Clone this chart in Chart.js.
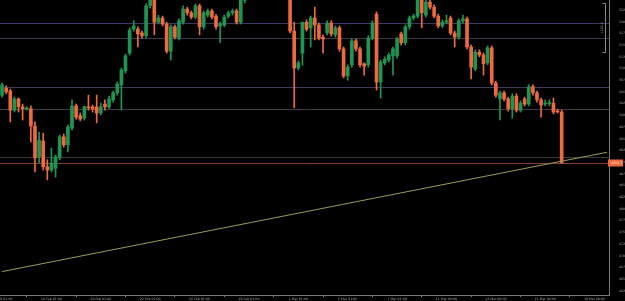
<!DOCTYPE html>
<html>
<head>
<meta charset="utf-8">
<script src="https://cdn.jsdelivr.net/npm/chart.js@4.4.1/dist/chart.umd.min.js"></script>
<style>
  html, body { margin: 0; padding: 0; background: #000; }
</style>
</head>
<body>
<canvas id="chart" width="625" height="301"></canvas>
<script>
// 4H candles
const opens = [5043,5058,5052,5011,5035,5018,5014,5014,4977,4911,4945,4890,4883,4887,4909,4954,4937,4973,5020,4999,
  4994,5018,5018,5018,5005,5024,5018,5033,5048,5065,5095,5133,5184,5184,5176,5170,5234,5251,5199,5208,
  5195,5137,5189,5165,5199,5227,5219,5210,5234,5189,5214,5223,5212,5191,5193,5212,5219,5223,5199,5246,
  5268,5289,5278,5306,5332,5315,5349,5321,5293,5328,5270,5180,5101,5133,5199,5187,5208,5193,5167,5176,
  5197,5172,5187,5142,5084,5108,5159,5142,5110,5108,5165,5216,5071,5112,5118,5127,5127,5174,5155,5189,
  5208,5212,5246,5214,5242,5231,5212,5191,5199,5208,5176,5167,5202,5206,5146,5099,5135,5129,5112,5144,
  5069,5035,5048,5035,5014,5041,5011,5035,5024,5061,5048,5033,5024,5025,5026,5009,5007];
const highs = [5069,5063,5056,5039,5037,5024,5018,5020,4986,4964,4962,4905,4930,4915,4958,4960,4979,5033,5024,5005,
  5020,5043,5022,5043,5026,5033,5041,5052,5071,5101,5131,5187,5202,5189,5180,5238,5253,5255,5214,5212,
  5199,5193,5193,5206,5234,5231,5223,5238,5238,5223,5227,5227,5216,5199,5214,5223,5227,5227,5251,5272,
  5293,5293,5315,5336,5340,5353,5358,5328,5332,5332,5275,5199,5116,5199,5204,5212,5231,5197,5172,5202,
  5202,5191,5191,5146,5108,5163,5163,5146,5112,5170,5202,5221,5118,5125,5133,5146,5167,5178,5193,5212,
  5216,5251,5251,5246,5246,5236,5216,5204,5214,5212,5180,5206,5214,5210,5150,5140,5140,5133,5148,5148,
  5073,5052,5052,5039,5046,5046,5031,5039,5065,5065,5052,5037,5033,5033,5037,5013,5011];
const lows = [5039,5046,4986,5007,5007,4990,5011,4943,4879,4898,4883,4862,4879,4868,4905,4932,4922,4969,4992,4988,
  4990,5011,5007,4984,5001,5011,5014,5028,5043,5011,5090,5129,5180,5146,5165,5165,5229,5172,5195,5191,
  5133,5118,5163,5161,5195,5214,5206,5206,5172,5184,5210,5206,5184,5155,5189,5208,5214,5195,5195,5240,
  5263,5263,5268,5300,5304,5306,5310,5278,5285,5262,5176,5016,5097,5107,5180,5146,5161,5161,5133,5172,
  5169,5167,5137,5080,5075,5103,5137,5103,5086,5103,5161,5054,5037,5108,5114,5086,5122,5150,5150,5184,
  5204,5208,5187,5210,5227,5208,5187,5187,5195,5172,5146,5163,5197,5142,5078,5095,5125,5086,5108,5065,
  5039,4990,5031,5009,4994,5007,5007,5020,5020,5043,5028,4996,5020,5020,5003,5005,4898];
const closes = [5065,5050,5011,5035,5018,5014,5015,4977,4909,4947,4890,4883,4898,4911,4954,4937,4975,5020,4996,4992,
  5018,5016,5014,5005,5018,5018,5035,5048,5067,5097,5127,5182,5191,5174,5170,5234,5246,5199,5208,5195,
  5137,5189,5167,5202,5227,5219,5210,5234,5189,5219,5223,5210,5189,5195,5210,5219,5223,5199,5246,5268,
  5289,5272,5310,5332,5310,5349,5321,5289,5328,5270,5180,5101,5112,5199,5184,5208,5193,5165,5163,5197,
  5174,5187,5142,5084,5103,5159,5142,5108,5105,5165,5197,5071,5114,5120,5129,5142,5163,5155,5189,5208,
  5212,5246,5219,5242,5231,5212,5191,5199,5202,5176,5167,5202,5206,5146,5103,5135,5129,5110,5144,5069,
  5043,5048,5035,5014,5041,5011,5026,5024,5061,5048,5033,5022,5024,5026,5007,5007,4898];

const slotCount = 148;             // candles + empty space to the right
const priceTicks = [4625,4650,4675,4700,4725,4750,4775,4800,4825,4850,4875,4900,4925,
  4950,4975,5000,5025,5050,5075,5100,5125,5150,5175,5200,5225];
const timeTickIdx = [0,12,24,36,48,60,72,84,96,108,120,132,144];
const timeTickLabels = ['14 Feb 01:00','16 Feb 01:00','20 Feb 01:00','22 Feb 01:00','26 Feb 01:00',
  '28 Feb 01:00','1 Mar 01:00','5 Mar 01:00','7 Mar 01:00','11 Mar 00:00','13 Mar 00:00',
  '15 Mar 00:00','19 Mar 00:00'];
const levels = [5197, 5165, 5060, 5013, 4911];
const levelColors = ['#3a3a62', '#3a3a46', '#3e3a5a', '#3e3c46', '#3a3a3a'];
const lastPrice = 4898.1;
const trend = [4666, 4921];        // trendline at first and last slot
const range = [5240, 5135];        // measure bracket

const bull = '#1e9553';
const bear = '#ec6a3e';
const candleColors = opens.map((o, i) => closes[i] >= o ? bull : bear);

const noPad = s => { s.paddingLeft = 0; s.paddingRight = 0; s.paddingTop = 0; s.paddingBottom = 0; };

const overlay = {
  id: 'overlay',
  beforeDatasetsDraw(chart) {
    const { ctx, chartArea: a, scales: { y } } = chart;
    ctx.save();
    ctx.lineWidth = 1;
    levels.forEach((v, i) => {
      const py = Math.round(y.getPixelForValue(v)) + 0.5;
      ctx.strokeStyle = levelColors[i];
      ctx.beginPath(); ctx.moveTo(a.left, py); ctx.lineTo(a.right, py); ctx.stroke();
    });
    const pp = Math.round(y.getPixelForValue(lastPrice)) + 0.5;
    ctx.strokeStyle = '#7c3f2c';
    ctx.beginPath(); ctx.moveTo(a.left, pp); ctx.lineTo(a.right, pp); ctx.stroke();
    ctx.restore();
  },
  afterDraw(chart) {
    const { ctx, chartArea: a, scales: { y } } = chart;
    ctx.save();
    // last price tag on the axis
    const pp = y.getPixelForValue(lastPrice);
    ctx.fillStyle = '#ec6a3e';
    ctx.fillRect(a.right - 1, pp - 3.5, 15, 7);
    ctx.fillStyle = '#f4d8cc';
    ctx.font = '3.2px "DejaVu Sans"';
    ctx.textBaseline = 'middle';
    ctx.fillText(lastPrice.toFixed(1), a.right + 2, pp);
    // measure bracket
    const t = Math.round(y.getPixelForValue(range[0])) + 0.5;
    const b = Math.round(y.getPixelForValue(range[1])) + 0.5;
    const bx = a.right - 3.5;
    ctx.strokeStyle = '#8a8a8a';
    ctx.lineWidth = 1;
    ctx.beginPath();
    ctx.moveTo(bx - 3, t); ctx.lineTo(bx, t); ctx.lineTo(bx, b); ctx.lineTo(bx - 3, b);
    ctx.stroke();
    ctx.translate(bx - 2, (t + b) / 2);
    ctx.rotate(-Math.PI / 2);
    ctx.fillStyle = '#9a9a9a';
    ctx.textAlign = 'center';
    ctx.textBaseline = 'bottom';
    ctx.fillText('+' + (range[0] - range[1]).toFixed(1), 0, 0);
    ctx.restore();
  }
};

new Chart(document.getElementById('chart'), {
  type: 'bar',
  data: {
    labels: Array.from({ length: slotCount }, (_, i) => i),
    datasets: [
      {
        data: lows.map((l, i) => [l, highs[i]]),
        backgroundColor: candleColors,
        barThickness: 1,
        grouped: false,
        order: 2
      },
      {
        data: opens.map((o, i) => [o, closes[i]]),
        backgroundColor: candleColors,
        barThickness: 3,
        minBarLength: 1,
        grouped: false,
        order: 1
      },
      {
        type: 'line',
        data: [{ x: 0, y: trend[0] }, { x: slotCount - 1, y: trend[1] }],
        borderColor: '#9c9c52',
        borderWidth: 1,
        pointRadius: 0,
        order: 0
      }
    ]
  },
  options: {
    responsive: false,
    animation: false,
    devicePixelRatio: 1,
    layout: { padding: 0 },
    plugins: { legend: { display: false }, tooltip: { enabled: false } },
    scales: {
      x: {
        afterFit: s => { s.height = 6; noPad(s); },
        afterBuildTicks: s => { s.ticks = timeTickIdx.map(v => ({ value: v })); },
        grid: { display: true, drawOnChartArea: false, tickLength: 2, color: '#777' },
        border: { display: true, color: '#7a7a7a' },
        ticks: {
          autoSkip: false, maxRotation: 0, padding: 0,
          color: '#a0a0a0', font: { family: 'DejaVu Sans', size: 3.2 },
          callback: v => timeTickLabels[timeTickIdx.indexOf(v)]
        }
      },
      y: {
        position: 'right',
        min: 4616,
        max: 5246.4,
        afterFit: s => { s.width = 16; noPad(s); },
        afterBuildTicks: s => { s.ticks = priceTicks.map(v => ({ value: v })); },
        grid: { display: false },
        border: { display: true, color: '#7a7a7a' },
        ticks: {
          autoSkip: false, padding: 2,
          color: '#a0a0a0', font: { family: 'DejaVu Sans', size: 3.2 },
          callback: v => v.toFixed(1)
        }
      }
    }
  },
  plugins: [overlay]
});
</script>
</body>
</html>
